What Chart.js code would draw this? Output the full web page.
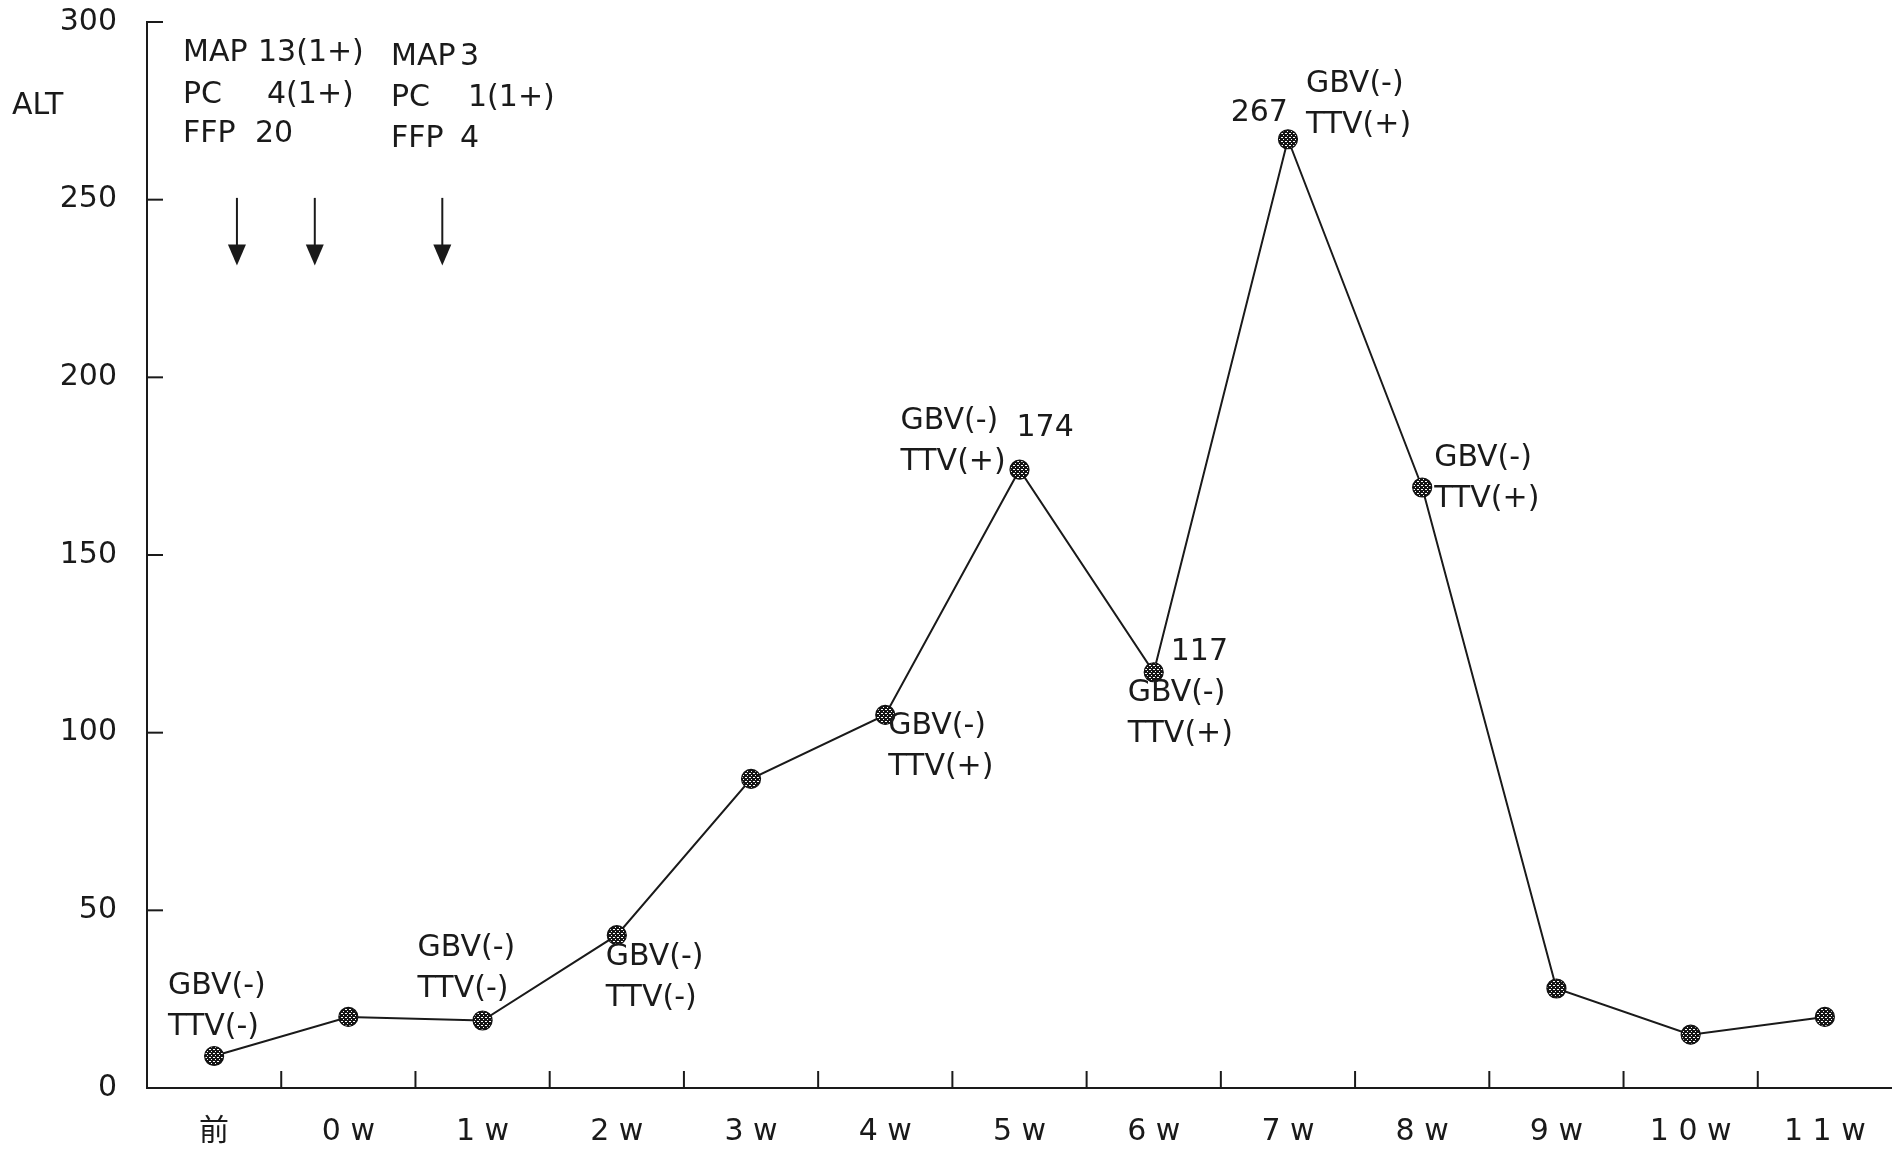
<!DOCTYPE html>
<html>
<head>
<meta charset="utf-8">
<script src="https://cdn.jsdelivr.net/npm/chart.js@4.4.1/dist/chart.umd.min.js"></script>
<style>
  html, body { margin: 0; padding: 0; background: #ffffff; overflow: hidden; }
  #wrap { width: 1892px; height: 1149px; }
</style>
</head>
<body>
<div id="wrap"><canvas id="c" width="1892" height="1149"></canvas></div>
<script>
// ---- data ----
const categories = ['前', '0 w', '1 w', '2 w', '3 w', '4 w', '5 w', '6 w', '7 w', '8 w', '9 w', '1 0 w', '1 1 w'];
const altValues = [9, 20, 19, 43, 87, 105, 174, 117, 267, 169, 28, 15, 20];
const yTickValues = [0, 50, 100, 150, 200, 250, 300];
const transfusionAt = [0.17, 0.75, 1.70];   // category positions of the transfusion arrows
const yAxisLabel = 'ALT';

// ---- annotation text (attached to points by index) ----
const pointNotes = [
  { i: 0, lines: ['GBV(-)', 'TTV(-)'], dx: -46, dy: -70 },
  { i: 2, lines: ['GBV(-)', 'TTV(-)'], dx: -65, dy: -72 },
  { i: 3, lines: ['GBV(-)', 'TTV(-)'], dx: -11, dy: 22 },
  { i: 5, lines: ['GBV(-)', 'TTV(+)'], dx: 3, dy: 11 },
  { i: 6, lines: ['GBV(-)', 'TTV(+)'], dx: -119, dy: -49 },
  { i: 6, lines: ['174'], dx: -3, dy: -42 },
  { i: 7, lines: ['117'], dx: 17, dy: -20 },
  { i: 7, lines: ['GBV(-)', 'TTV(+)'], dx: -26, dy: 21 },
  { i: 8, lines: ['267'], dx: 0, dy: -26, align: 'right' },
  { i: 8, lines: ['GBV(-)', 'TTV(+)'], dx: 18, dy: -55 },
  { i: 9, lines: ['GBV(-)', 'TTV(+)'], dx: 12, dy: -29 }
];
const transfusionNotes = [
  { x: 183, y: 53, parts: [['MAP', 0], ['13(1+)', 75]] },
  { x: 183, y: 95, parts: [['PC', 0], ['4(1+)', 84]] },
  { x: 183, y: 134, parts: [['FFP', 0], ['20', 72]] },
  { x: 391, y: 57, parts: [['MAP', 0], ['3', 69]] },
  { x: 391, y: 98, parts: [['PC', 0], ['1(1+)', 77]] },
  { x: 391, y: 139, parts: [['FFP', 0], ['4', 69]] }
];

const FONT_FAMILY = '"DejaVu Sans", "Noto Sans CJK JP", sans-serif';
const FONT_SIZE = 30;
const INK = '#1a1a1a';
const LINE_GAP = 41;

// dotted marker pattern
function makePattern() {
  const p = document.createElement('canvas');
  p.width = 4; p.height = 4;
  const g = p.getContext('2d');
  g.fillStyle = '#151515';
  g.fillRect(0, 0, 4, 4);
  g.fillStyle = '#ffffff';
  g.fillRect(1, 1, 2, 1);
  g.fillRect(3, 3, 1, 1);
  return document.getElementById('c').getContext('2d').createPattern(p, 'repeat');
}

const decorPlugin = {
  id: 'decor',
  afterDraw(chart) {
    const ctx = chart.ctx;
    const xs = chart.scales.x, ys = chart.scales.y;
    const area = chart.chartArea;
    ctx.save();
    ctx.strokeStyle = INK;
    ctx.fillStyle = INK;
    ctx.lineWidth = 2;

    // inner tick marks on y axis
    yTickValues.forEach(v => {
      if (v === 0) return;
      const y = ys.getPixelForValue(v);
      ctx.beginPath();
      ctx.moveTo(area.left, y);
      ctx.lineTo(area.left + 16, y);
      ctx.stroke();
    });
    // inner tick marks on x axis between categories
    for (let k = 1; k < categories.length; k++) {
      const x = xs.getPixelForValue(k - 0.5);
      ctx.beginPath();
      ctx.moveTo(x, area.bottom);
      ctx.lineTo(x, area.bottom - 17);
      ctx.stroke();
    }

    // transfusion arrows
    transfusionAt.forEach(p => {
      const x = xs.getPixelForValue(p);
      const yTop = ys.getPixelForValue(250.5);
      const yTip = ys.getPixelForValue(231.5);
      ctx.beginPath();
      ctx.moveTo(x, yTop);
      ctx.lineTo(x, yTip - 10);
      ctx.stroke();
      ctx.beginPath();
      ctx.moveTo(x - 9, yTip - 21);
      ctx.lineTo(x + 9, yTip - 21);
      ctx.lineTo(x, yTip);
      ctx.closePath();
      ctx.fill();
    });

    // texts
    ctx.font = FONT_SIZE + 'px ' + FONT_FAMILY;
    ctx.textBaseline = 'middle';
    ctx.textAlign = 'left';
    ctx.fillText(yAxisLabel, 12, 106);

    transfusionNotes.forEach(n => {
      n.parts.forEach(([t, off]) => ctx.fillText(t, n.x + off, n.y));
    });

    const meta = chart.getDatasetMeta(0);
    pointNotes.forEach(n => {
      const el = meta.data[n.i];
      ctx.textAlign = n.align || 'left';
      n.lines.forEach((t, j) => {
        ctx.fillText(t, el.x + n.dx, el.y + n.dy + j * LINE_GAP);
      });
    });
    ctx.restore();
  }
};

const chart = new Chart(document.getElementById('c'), {
  type: 'line',
  data: {
    labels: categories,
    datasets: [{
      data: altValues,
      borderColor: INK,
      borderWidth: 2,
      tension: 0,
      pointRadius: 9.5,
      pointBorderWidth: 1.2,
      pointBorderColor: '#111',
      pointBackgroundColor: makePattern(),
      fill: false
    }]
  },
  options: {
    responsive: false,
    animation: false,
    devicePixelRatio: 1,
    layout: { padding: { top: 22, right: 0, bottom: 0, left: 0 }, autoPadding: false },
    plugins: { legend: { display: false }, tooltip: { enabled: false } },
    scales: {
      x: {
        type: 'category',
        offset: true,
        grid: { display: false, drawTicks: false, tickLength: 0, offset: true },
        border: { display: true, color: INK, width: 2 },
        ticks: {
          color: INK,
          font: { family: FONT_FAMILY, size: FONT_SIZE },
          padding: 26,
          maxRotation: 0,
          autoSkip: false
        },
        afterFit(s) { s.height = 61; s.paddingLeft = 0; s.paddingRight = 0; }
      },
      y: {
        min: 0,
        max: 300,
        afterBuildTicks(s) { s.ticks = yTickValues.map(v => ({ value: v })); },
        grid: { display: false, drawTicks: false, tickLength: 0 },
        border: { display: true, color: INK, width: 2 },
        ticks: {
          color: INK,
          font: { family: FONT_FAMILY, size: FONT_SIZE },
          padding: 30
        },
        afterFit(s) { s.width = 147; s.paddingTop = 0; s.paddingBottom = 0; }
      }
    }
  },
  plugins: [decorPlugin]
});
</script>
</body>
</html>
